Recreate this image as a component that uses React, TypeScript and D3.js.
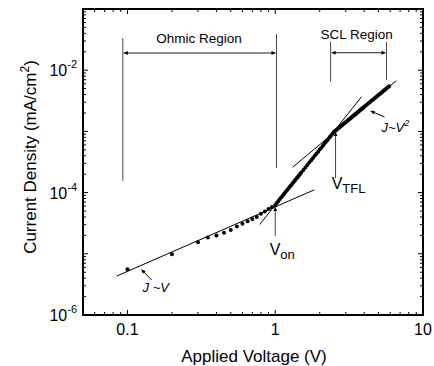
import * as d3 from 'd3'

const W = 434
const H = 366
const FONT = '"Liberation Sans", Arial, Helvetica, sans-serif'

// measured J-V points, ohmic part
const ohmicV = [0.1, 0.2, 0.3, 0.35, 0.4, 0.45, 0.5, 0.55, 0.6, 0.65, 0.7, 0.75, 0.8, 0.85, 0.9, 0.95, 1.0]
const ohmicJ = [5.6e-6, 9.8e-6, 1.55e-5, 1.85e-5, 2.0e-5, 2.2e-5, 2.45e-5, 2.8e-5, 3.1e-5, 3.4e-5, 3.7e-5, 4.0e-5, 4.5e-5, 4.9e-5, 5.4e-5, 5.8e-5, 6.3e-5]

// trap-filling part (between V_on and V_TFL)
const trapV = [1.025, 1.05, 1.075, 1.1, 1.125, 1.15, 1.175, 1.2, 1.225, 1.25, 1.275, 1.3, 1.325, 1.35, 1.375, 1.4, 1.425, 1.45, 1.475, 1.5, 1.55, 1.6, 1.65, 1.7, 1.75, 1.8, 1.85, 1.9, 1.95, 2.0, 2.05, 2.1, 2.15, 2.2, 2.25, 2.3, 2.35, 2.4, 2.45, 2.5]
const trapJ = [6.78e-5, 7.29e-5, 7.83e-5, 8.39e-5, 8.97e-5, 9.58e-5, 1.022e-4, 1.09e-4, 1.158e-4, 1.23e-4, 1.306e-4, 1.38e-4, 1.466e-4, 1.55e-4, 1.638e-4, 1.73e-4, 1.823e-4, 1.92e-4, 2.022e-4, 2.13e-4, 2.35e-4, 2.58e-4, 2.83e-4, 3.10e-4, 3.38e-4, 3.67e-4, 3.99e-4, 4.32e-4, 4.67e-4, 5.04e-4, 5.43e-4, 5.83e-4, 6.26e-4, 6.71e-4, 7.18e-4, 7.67e-4, 8.18e-4, 8.71e-4, 9.26e-4, 9.84e-4]

// space-charge-limited part
const sclV = [2.55, 2.6, 2.65, 2.7, 2.75, 2.8, 2.85, 2.9, 2.95, 3.0, 3.05, 3.1, 3.15, 3.2, 3.25, 3.3, 3.35, 3.4, 3.45, 3.5, 3.55, 3.6, 3.65, 3.7, 3.75, 3.8, 3.85, 3.9, 3.95, 4.0, 4.1, 4.2, 4.3, 4.4, 4.5, 4.6, 4.7, 4.8, 4.9, 5.0, 5.1, 5.2, 5.3, 5.4, 5.5, 5.6, 5.7, 5.8, 5.9]
const sclJ = [1.023e-3, 1.064e-3, 1.105e-3, 1.147e-3, 1.19e-3, 1.234e-3, 1.278e-3, 1.324e-3, 1.37e-3, 1.417e-3, 1.464e-3, 1.513e-3, 1.562e-3, 1.612e-3, 1.663e-3, 1.714e-3, 1.766e-3, 1.82e-3, 1.873e-3, 1.928e-3, 1.984e-3, 2.04e-3, 2.097e-3, 2.155e-3, 2.213e-3, 2.273e-3, 2.333e-3, 2.394e-3, 2.456e-3, 2.518e-3, 2.646e-3, 2.777e-3, 2.91e-3, 3.047e-3, 3.187e-3, 3.331e-3, 3.477e-3, 3.626e-3, 3.779e-3, 3.935e-3, 4.094e-3, 4.256e-3, 4.421e-3, 4.59e-3, 4.761e-3, 4.936e-3, 5.114e-3, 5.295e-3, 5.479e-3]

// fitted straight lines (end points)
const fitOhmicV = [0.0845, 1.84]
const fitOhmicJ = [4.33e-6, 1.11e-4]
const fitTrapV = [0.785, 3.84]
const fitTrapJ = [3.01e-5, 3.69e-3]
const fitSclV = [1.31, 6.59]
const fitSclJ = [2.59e-4, 6.74e-3]

// tick labels
const xLabelVals = [0.1, 1, 10]
const xLabelText = ['0.1', '1', '10']
const yLabelVals = [1e-6, 1e-4, 1e-2]
const yLabelExp = ['-6', '-4', '-2']

// region brackets, in data units
const ohmicBracketV = [0.093, 1.02]
const ohmicArrowJ = 1.91e-2
const ohmicLeftJ = [3.36e-2, 1.55e-4]
const ohmicRightJ = [3.9e-2, 2.52e-4]
const sclBracketV = [2.37, 5.66]
const sclArrowJ = 1.93e-2
const sclLeftJ = [2.92e-2, 6.49e-3]
const sclRightJ = [2.92e-2, 6.92e-3]

const zip = (a: number[], b: number[]) => a.map((v, i) => [v, b[i]] as [number, number])

export default function App() {
  const x = d3.scaleLog().domain([0.05, 10]).range([83, 423])
  const y = d3.scaleLog().domain([1e-6, 1e-1]).range([315, 9])
  const [x0, x1] = x.range()
  const [y0, y1] = y.range()
  const isMajor = (v: number) => Math.abs(Math.log10(v) - Math.round(Math.log10(v))) < 1e-6
  const line = d3.line<[number, number]>().x(d => x(d[0])).y(d => y(d[1]))

  const pts = [...zip(ohmicV, ohmicJ), ...zip(trapV, trapJ), ...zip(sclV, sclJ)]
  const fits = [zip(fitOhmicV, fitOhmicJ), zip(fitTrapV, fitTrapJ), zip(fitSclV, fitSclJ)]

  const xt = x.ticks().filter(v => v > 0.05 && v < 10)
  const yt = y.ticks().filter(v => v > 1e-6 && v < 1e-1)

  return (
    <svg width={W} height={H} style={{ position: 'absolute', left: 0, top: 0, background: '#fff' }} fontFamily={FONT}>
      <defs>
        <marker id="ah" viewBox="0 0 10 10" refX="10" refY="5" markerWidth="6" markerHeight="4"
          markerUnits="userSpaceOnUse" orient="auto-start-reverse">
          <path d="M0,0 L10,5 L0,10 z" fill="#000" />
        </marker>
      </defs>
      <rect x={0} y={0} width={W} height={H} fill="#fff" />

      {/* ticks, inward on all four sides */}
      <g stroke="#000" strokeWidth={1}>
        {xt.map(v => {
          const len = isMajor(v) ? 5 : 3
          return (
            <g key={'x' + v}>
              <line x1={x(v)} x2={x(v)} y1={y0} y2={y0 - len} />
              <line x1={x(v)} x2={x(v)} y1={y1} y2={y1 + len} />
            </g>
          )
        })}
        {yt.map(v => {
          const len = isMajor(v) ? 5 : 3
          return (
            <g key={'y' + v}>
              <line x1={x0} x2={x0 + len} y1={y(v)} y2={y(v)} />
              <line x1={x1} x2={x1 - len} y1={y(v)} y2={y(v)} />
            </g>
          )
        })}
      </g>
      <rect x={x0} y={y1} width={x1 - x0} height={y0 - y1} fill="none" stroke="#000" strokeWidth={2} />

      {/* tick labels */}
      {xLabelVals.map((v, i) => (
        <text key={'xl' + v} x={x(v)} y={335} textAnchor="middle" fontSize={16}>{xLabelText[i]}</text>
      ))}
      {yLabelVals.map((v, i) => (
        <text key={'yl' + v} x={x0 - 6} y={y(v) + 6} textAnchor="end" fontSize={16}>
          10<tspan fontSize={11} dy={-8}>{yLabelExp[i]}</tspan>
        </text>
      ))}

      {/* axis titles */}
      <text x={254} y={362} textAnchor="middle" fontSize={17}>Applied Voltage (V)</text>
      <text transform="translate(36,157) rotate(-90)" textAnchor="middle" fontSize={17}>
        Current Density (mA/cm<tspan fontSize={12} dy={-7}>2</tspan><tspan dy={7}>)</tspan>
      </text>

      {/* fit lines */}
      {fits.map((f, i) => (
        <path key={'f' + i} d={line(f) ?? ''} fill="none" stroke="#000" strokeWidth={1} />
      ))}

      {/* data */}
      {pts.map((p, i) => (
        <circle key={'p' + i} cx={x(p[0])} cy={y(p[1])} r={2} fill="#000" />
      ))}

      {/* region brackets */}
      <g stroke="#333" strokeWidth={0.9} fill="none">
        <line x1={x(ohmicBracketV[0])} x2={x(ohmicBracketV[0])} y1={y(ohmicLeftJ[0])} y2={y(ohmicLeftJ[1])} />
        <line x1={x(ohmicBracketV[1])} x2={x(ohmicBracketV[1])} y1={y(ohmicRightJ[0])} y2={y(ohmicRightJ[1])} />
        <line x1={x(ohmicBracketV[0]) + 1} x2={x(ohmicBracketV[1]) - 1} y1={y(ohmicArrowJ)} y2={y(ohmicArrowJ)}
          stroke="#000" markerStart="url(#ah)" markerEnd="url(#ah)" />
        <line x1={x(sclBracketV[0])} x2={x(sclBracketV[0])} y1={y(sclLeftJ[0])} y2={y(sclLeftJ[1])} />
        <line x1={x(sclBracketV[1])} x2={x(sclBracketV[1])} y1={y(sclRightJ[0])} y2={y(sclRightJ[1])} />
        <line x1={x(sclBracketV[0]) + 1} x2={x(sclBracketV[1]) - 1} y1={y(sclArrowJ)} y2={y(sclArrowJ)}
          stroke="#000" markerStart="url(#ah)" markerEnd="url(#ah)" />
      </g>
      <text x={x(0.305)} y={y(2.78e-2)} textAnchor="middle" fontSize={13.5}>Ohmic Region</text>
      <text x={x(3.55)} y={y(3.24e-2)} textAnchor="middle" fontSize={13.5}>SCL Region</text>

      {/* pointer arrows */}
      <g stroke="#000" strokeWidth={1} fill="none">
        <line x1={x(1.0)} x2={x(1.0)} y1={y(1.95e-5)} y2={y(5.82e-5)} stroke="#444" markerEnd="url(#ah)" />
        <line x1={x(2.56)} x2={x(2.56)} y1={y(1.73e-4)} y2={y(9.77e-4)} stroke="#444" markerEnd="url(#ah)" />
        <line x1={x(0.1456)} x2={x(0.1243)} y1={y(3.73e-6)} y2={y(5.54e-6)} markerEnd="url(#ah)" />
        <line x1={x(5.49)} x2={x(4.42)} y1={y(1.72e-3)} y2={y(2.15e-3)} markerEnd="url(#ah)" />
      </g>

      {/* labels */}
      <text x={x(0.917)} y={y(9.55e-6)} fontSize={16}>
        V<tspan fontSize={13} dy={4}>on</tspan>
      </text>
      <text x={x(2.41)} y={y(1.15e-4)} fontSize={16}>
        V<tspan fontSize={13} dy={4}>TFL</tspan>
      </text>
      <text x={x(0.1266)} y={y(2.4e-6)} fontSize={13} fontStyle="italic">J ~V</text>
      <text x={x(5.24)} y={y(9.77e-4)} fontSize={13} fontStyle="italic">
        J~V<tspan fontSize={9} dy={-6}>2</tspan>
      </text>
    </svg>
  )
}
